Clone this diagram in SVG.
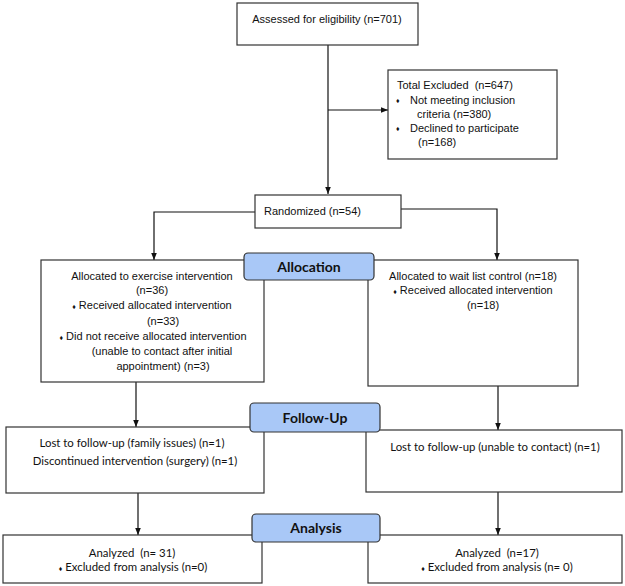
<svg xmlns="http://www.w3.org/2000/svg" width="625" height="586" viewBox="0 0 625 586">
<defs>
<marker id="ah" viewBox="0 0 10 10" refX="10" refY="5" markerWidth="7" markerHeight="7" orient="auto" markerUnits="userSpaceOnUse">
<path d="M0,1 L10,5 L0,9 z" fill="#111"/>
</marker>
<style>
.box{fill:#fff;stroke:#333;stroke-width:1.2}
.lab{fill:#a9c8f7;stroke:#333;stroke-width:1.2}
text{white-space:pre}
.t{font-family:"Liberation Sans",Arial,sans-serif;font-size:11px;fill:#111}
.c{font-family:Lato,"Open Sans",sans-serif;font-size:11.4px;fill:#111}
.h{font-family:Lato,"Open Sans",sans-serif;font-size:14px;font-weight:bold;fill:#111;text-anchor:middle}
.m{text-anchor:middle}
.b{font-size:7px}
.ln{fill:none;stroke:#111;stroke-width:1.2}
</style>
</defs>
<rect width="625" height="586" fill="#fff"/>
<g id="connectors">
<path class="ln" d="M328,45 V194" marker-end="url(#ah)"/>
<path class="ln" d="M328,110 H388" marker-end="url(#ah)"/>
<path class="ln" d="M255,212 H154 V260" marker-end="url(#ah)"/>
<path class="ln" d="M401,209 H497 V260" marker-end="url(#ah)"/>
<path class="ln" d="M136,382 V427" marker-end="url(#ah)"/>
<path class="ln" d="M498,386 V430" marker-end="url(#ah)"/>
<path class="ln" d="M138,493 V535" marker-end="url(#ah)"/>
<path class="ln" d="M498,492 V535" marker-end="url(#ah)"/>
</g>
<g id="assessed">
<rect class="box" x="237" y="3" width="181" height="42"/>
<text class="t m" x="327" y="23">Assessed for eligibility (n=701)</text>
</g>
<g id="excluded">
<rect class="box" x="388" y="70" width="169" height="89"/>
<text class="t" x="397" y="89">Total Excluded  (n=647)</text>
<text class="t b" x="396" y="103">♦</text>
<text class="t" x="410" y="104">Not meeting inclusion</text>
<text class="t" x="417" y="118">criteria (n=380)</text>
<text class="t b" x="396" y="131">♦</text>
<text class="t" x="410" y="132">Declined to participate</text>
<text class="t" x="418" y="146">(n=168)</text>
</g>
<g id="randomized">
<rect class="box" x="255" y="195" width="146" height="33"/>
<text class="t" x="264" y="215">Randomized (n=54)</text>
</g>
<g id="alloc-left">
<rect class="box" x="41" y="260" width="223" height="122"/>
<text class="t m" x="152" y="280">Allocated to exercise intervention</text>
<text class="t m" x="152" y="294">(n=36)</text>
<text class="t m" x="152" y="309"><tspan class="b">♦</tspan> Received allocated intervention</text>
<text class="t m" x="163" y="325">(n=33)</text>
<text class="t m" x="153" y="340"><tspan class="b">♦</tspan> Did not receive allocated intervention</text>
<text class="t m" x="162" y="355">(unable to contact after initial</text>
<text class="t m" x="163" y="370">appointment) (n=3)</text>
</g>
<g id="alloc-right">
<rect class="box" x="368" y="260" width="210" height="126"/>
<text class="t m" x="473" y="280">Allocated to wait list control (n=18)</text>
<text class="t m" x="473" y="294"><tspan class="b">♦</tspan> Received allocated intervention</text>
<text class="t m" x="483" y="309">(n=18)</text>
</g>
<g id="allocation-label">
<rect class="lab" x="244" y="253" width="130" height="27" rx="4"/>
<text class="h" x="309" y="272">Allocation</text>
</g>
<g id="follow-left">
<rect class="box" x="6" y="427" width="258" height="66"/>
<text class="c m" x="132" y="447">Lost to follow-up (family issues) (n=1)</text>
<text class="c m" x="135" y="465">Discontinued intervention (surgery) (n=1)</text>
</g>
<g id="follow-right">
<rect class="box" x="366" y="430" width="256" height="62"/>
<text class="c m" x="495" y="451">Lost to follow-up (unable to contact) (n=1)</text>
</g>
<g id="followup-label">
<rect class="lab" x="250" y="403" width="130" height="29" rx="4"/>
<text class="h" x="315" y="423">Follow-Up</text>
</g>
<g id="analysis-left">
<rect class="box" x="3" y="535" width="259" height="48"/>
<text class="c m" x="132" y="557">Analyzed  (n= 31)</text>
<text class="c m" x="133" y="571"><tspan class="b">♦</tspan> Excluded from analysis (n=0)</text>
</g>
<g id="analysis-right">
<rect class="box" x="368" y="535" width="254" height="48"/>
<text class="c m" x="497" y="557">Analyzed  (n=17)</text>
<text class="c m" x="497" y="571"><tspan class="b">♦</tspan> Excluded from analysis (n= 0)</text>
</g>
<g id="analysis-label">
<rect class="lab" x="252" y="514" width="128" height="28" rx="4"/>
<text class="h" x="316" y="533">Analysis</text>
</g>
</svg>
